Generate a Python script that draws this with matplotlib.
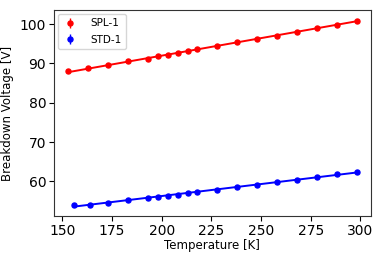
import numpy as np
import matplotlib
matplotlib.use("Agg")
import matplotlib.pyplot as plt

temp_spl = [153, 163, 173, 183, 193, 198, 203, 208, 213, 218, 228, 238, 248, 258, 268, 278, 288, 298]
volt_spl = [88.0, 88.8, 89.5, 90.5, 91.2, 91.8, 92.1, 92.7, 93.1, 93.6, 94.4, 95.4, 96.2, 97.1, 98.1, 99.0, 99.9, 100.8]
err_spl = [0.4] * len(temp_spl)

temp_std = [156, 164, 173, 183, 193, 198, 203, 208, 213, 218, 228, 238, 248, 258, 268, 278, 288, 298]
volt_std = [54.1, 54.1, 54.6, 55.2, 55.8, 56.1, 56.3, 56.6, 57.0, 57.3, 57.9, 58.6, 59.2, 59.8, 60.4, 61.1, 61.8, 62.4]
err_std = [0.4] * len(temp_std)

fig = plt.figure(figsize=(3.82, 2.58), dpi=100)
ax = fig.add_axes([0.141, 0.163, 0.830, 0.798])

for t, v, e, c, lab in [(temp_spl, volt_spl, err_spl, 'red', 'SPL-1'),
                        (temp_std, volt_std, err_std, 'blue', 'STD-1')]:
    t = np.array(t); v = np.array(v)
    ax.errorbar(t, v, yerr=e, fmt='o', color=c, ms=3.6, elinewidth=1, label=lab)
    p = np.polyfit(t, v, 1)
    ax.plot(t, np.polyval(p, t), color=c, lw=1.4)

ax.set_xlabel('Temperature [K]', fontsize=8.5, labelpad=1)
ax.set_ylabel('Breakdown Voltage [V]', fontsize=8.5, labelpad=4)
ax.tick_params(labelsize=10, length=3.5, pad=2)
ax.set_xticks([150, 175, 200, 225, 250, 275, 300])
ax.set_yticks([60, 70, 80, 90, 100])
leg = ax.legend(loc='upper left', fontsize=7.5, handlelength=1.5, borderpad=0.4,
                labelspacing=0.6, handletextpad=1.2, borderaxespad=0.4)
for s in ax.spines.values():
    s.set_color('#333333')
fig.savefig('out.png', dpi=100)
